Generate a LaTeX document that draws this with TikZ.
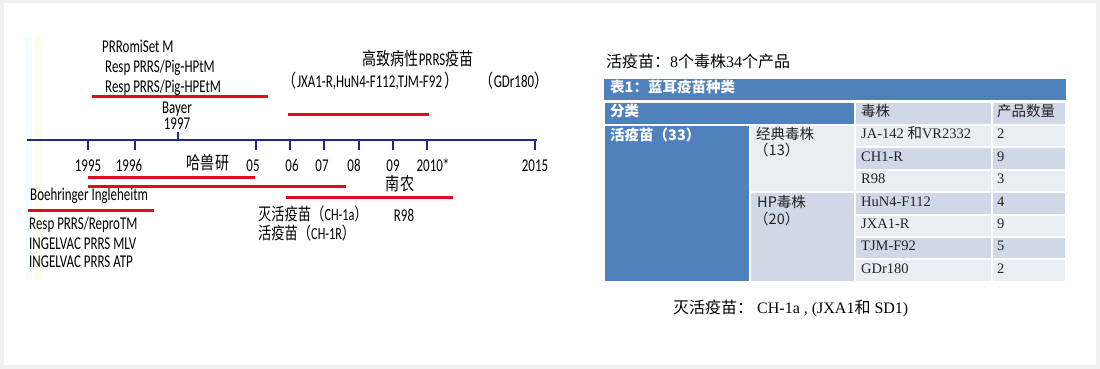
\documentclass[tikz,border=0pt]{standalone}
\usepackage{fontspec}
\setmainfont{Carlito}[FakeStretch=0.72]
\newfontfamily\cjk{Noto Sans CJK SC}[FakeStretch=0.78]
\newfontfamily\cjkt{Noto Sans CJK SC}
\newfontfamily\tms{Liberation Serif}
\definecolor{framegray}{RGB}{240,240,240}
\definecolor{axisblue}{RGB}{30,40,140}
\definecolor{barred}{RGB}{226,10,30}
\definecolor{tblue}{RGB}{79,129,189}
\definecolor{tdark}{RGB}{208,216,232}
\definecolor{tlight}{RGB}{233,237,244}
\definecolor{ttext}{RGB}{35,35,35}

\begin{document}
\begin{tikzpicture}[x=1pt, y=-1pt,
  lbl/.style={inner sep=0pt, font=\fontsize{18}{20}\selectfont, text height=0.6em, text depth=0.16em},
  axis/.style={axisblue, line width=2.6pt},
  tick/.style={axisblue, line width=2pt},
  bar/.style={barred, line width=3pt},
  cell/.style={draw=white, line width=2pt},
  tt/.style={inner sep=0pt, anchor=west, text=ttext, font=\fontsize{14.5}{16}\selectfont\tms, text height=0.72em, text depth=0.2em},
  tc/.style={tt, font=\fontsize{14.5}{16}\selectfont\cjkt},
  th/.style={tt, text=white, font=\fontsize{14.5}{16}\selectfont\cjkt\bfseries}]

  \useasboundingbox (0,0) rectangle (1100,369);
  \fill[framegray] (0,0) rectangle (1100,369);
  \fill[white] (4,3) rectangle (1096,365);
  \fill[cyan!4] (25,37) rectangle (32,280);
  \fill[yellow!7] (35,37) rectangle (42,280);

  \coordinate (ax0) at (27,140);
  \coordinate (ax1) at (537,140);
  \draw[axis] (ax0) -- (ax1);
  \foreach \n/\x in {t95/88, t96/135, t05/256, t06/290, t07/324, t08/359, t09/393, t10/427, t15/535} {
    \coordinate (\n) at (\x,140);
    \draw[tick] (\n) -- ++(0,10);
  }
  \coordinate (t97) at (178,140);
  \draw[tick] (t97) -- ++(0,-8);

  \foreach \n/\x/\t in {y95/88/1995, y96/129/1996, y05/253/05, y06/292/06, y07/322/07, y08/354/08, y09/393/09, y10/433/2010*, y15/535/2015}
    \node (\n) [lbl] at (\x,169) {\t};

  \node (prr) [lbl, anchor=west] at (102,50) {PRRomiSet M};
  \node (hpt) [lbl, anchor=west] at (105,70) {Resp PRRS/Pig-HPtM};
  \node (hpe) [lbl, anchor=west] at (105,90) {Resp PRRS/Pig-HPEtM};
  \node (bayer) [lbl] at (177,111) {Bayer};
  \node (y97) [lbl] at (177,127) {1997};
  \node (hpv) [lbl] at (418,63) {{\cjk 高致病性}PRRS{\cjk 疫苗}};
  \node (hpl) [lbl] at (371,85) {{\cjk （}JXA1-R,HuN4-F112,TJM-F92 {\cjk ）}};
  \node (gdr) [lbl] at (514,85) {{\cjk （}GDr180{\cjk ）}};
  \node (hsy) [lbl] at (208,167) {\cjk 哈兽研};
  \node (nn) [lbl] at (400,188) {\cjk 南农};
  \node (boe) [lbl, anchor=west] at (30,198) {Boehringer Ingleheitm};
  \node (repro) [lbl, anchor=west] at (29,227) {Resp PRRS/ReproTM};
  \node (mlv) [lbl, anchor=west] at (29,247) {INGELVAC PRRS MLV};
  \node (atp) [lbl, anchor=west] at (29,265) {INGELVAC PRRS ATP};
  \node (ch1a) [lbl, anchor=west, font=\fontsize{17}{19}\selectfont] at (258,218) {{\cjk 灭活疫苗（}CH-1a{\cjk ）}};
  \node (ch1r) [lbl, anchor=west, font=\fontsize{17}{19}\selectfont] at (258,237) {{\cjk 活疫苗（}CH-1R{\cjk ）}};
  \node (r98) [lbl] at (404,219) {R98};

  \foreach \n/\a/\b/\y in {bay/92/268/96, hpb/288/429/114, hsa/88/255/177, hsb/88/346/186, nnb/286/453/197, boeb/28/154/210} {
    \coordinate (\n-l) at (\a,\y);
    \coordinate (\n-r) at (\b,\y);
    \draw[bar] (\n-l) -- (\n-r);
  }

  \node (ttl) [tt, font=\fontsize{16}{18}\selectfont\cjkt, text=black] at (606,65) {活疫苗：{\tms 8}个毒株{\tms 34}个产品};

  \fill[tblue] (604,79) rectangle (1066,100);
  \node (tab) [th] at (610,89.5) {表1：蓝耳疫苗种类};
  \path[cell, fill=tblue] (604,102) rectangle (855,125);
  \path[cell, fill=tdark] (855,102) rectangle (992,125);
  \path[cell, fill=tdark] (992,102) rectangle (1066,125);
  \node (fl) [th] at (610,113.5) {分类};
  \node (dz) [tc] at (861,113.5) {毒株};
  \node (cp) [tc] at (997,113.5) {产品数量};

  \path[cell, fill=tblue] (604,125) rectangle (750,282);
  \path[cell, fill=tlight] (750,125) rectangle (855,192.2);
  \path[cell, fill=tdark] (750,192.2) rectangle (855,282);
  \node (hy) [th] at (610,138) {活疫苗（33）};
  \node (jd) [tc] at (756,137) {经典毒株};
  \node (jdn) [tc] at (754,153) {（13）};
  \node (hpd) [tc] at (757,205) {HP毒株};
  \node (hpn) [tc] at (754,222) {（20）};

  \foreach \s/\c [count=\k] in {JA-142 {\cjkt 和}VR2332/2, CH1-R/9, R98/3, HuN4-F112/4, JXA1-R/9, TJM-F92/5, GDr180/2} {
    \pgfmathsetmacro\ya{125+(\k-1)*22.4}
    \pgfmathsetmacro\yb{\ya+22.4}
    \pgfmathtruncatemacro\odd{mod(\k,2)}
    \ifnum\odd=1 \def\fc{tlight}\else\def\fc{tdark}\fi
    \path[cell, fill=\fc] (855,\ya) rectangle (992,\yb);
    \path[cell, fill=\fc] (992,\ya) rectangle (1066,\yb);
    \node (s\k) [tt] at (861,\ya+11.2) {\s};
    \node (n\k) [tt] at (997,\ya+11.2) {\c};
  }

  \node (mh) [tt, font=\fontsize{16}{18}\selectfont\tms, text=black] at (673,311) {{\cjkt 灭活疫苗：} CH-1a , (JXA1{\cjkt 和} SD1)};

\end{tikzpicture}
\end{document}
